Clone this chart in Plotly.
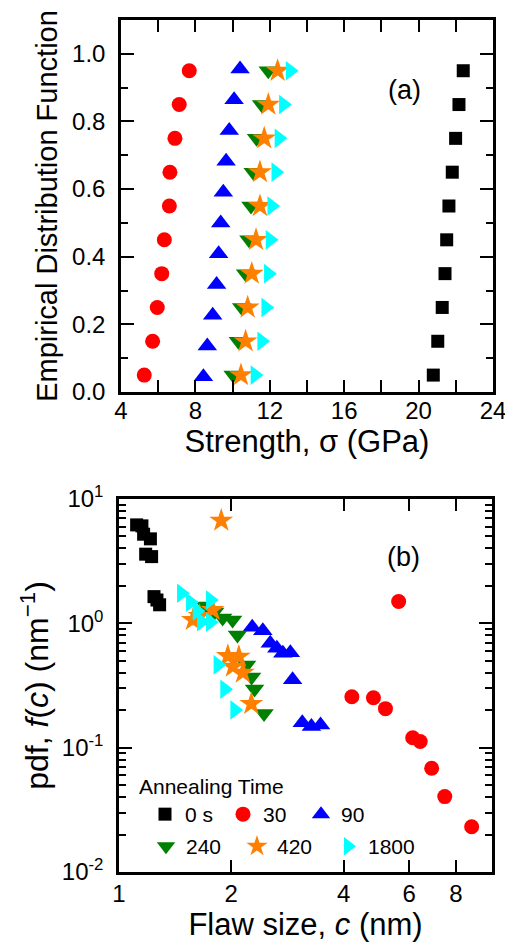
import plotly.graph_objects as go

# ---------------- data ----------------
# (a) empirical distribution function vs strength (GPa)
F10 = [0.05, 0.15, 0.25, 0.35, 0.45, 0.55, 0.65, 0.75, 0.85, 0.95]
F11 = [0.045, 0.136, 0.227, 0.318, 0.409, 0.5, 0.591, 0.682, 0.773, 0.864, 0.955]
s0 = [20.79, 21.03, 21.27, 21.42, 21.51, 21.63, 21.81, 21.99, 22.17, 22.40]
s30 = [5.25, 5.70, 5.95, 6.19, 6.33, 6.60, 6.63, 6.90, 7.13, 7.67]
s90 = [8.43, 8.64, 8.93, 9.14, 9.25, 9.36, 9.50, 9.65, 9.82, 10.08, 10.40]
s240 = [10.03, 10.31, 10.49, 10.70, 10.88, 10.99, 11.11, 11.29, 11.56, 11.92]
s420 = [10.45, 10.70, 10.81, 11.03, 11.26, 11.47, 11.47, 11.70, 11.92, 12.42]
s1800 = [11.20, 11.56, 11.78, 11.92, 12.01, 12.10, 12.32, 12.49, 12.73, 13.09]

# (b) pdf vs flaw size (nm)
c0 = [1.115, 1.152, 1.164, 1.214, 1.179, 1.223, 1.241, 1.264, 1.285]
f0 = [6.19, 6.08, 5.21, 4.78, 3.60, 3.44, 1.64, 1.54, 1.41]
c30 = [5.62, 4.21, 4.81, 5.18, 6.13, 6.42, 6.89, 7.47, 8.82]
f30 = [1.50, 0.257, 0.252, 0.206, 0.120, 0.112, 0.0683, 0.0404, 0.0231]
c90 = [2.276, 2.43, 2.544, 2.65, 2.75, 2.88, 2.92, 3.10, 3.28, 3.47]
f90 = [0.93, 0.873, 0.69, 0.63, 0.574, 0.581, 0.351, 0.159, 0.148, 0.152]
c240 = [1.706, 1.804, 1.896, 2.016, 2.078, 2.198, 2.267, 2.309, 2.448]
f240 = [1.38, 1.236, 1.105, 1.065, 0.807, 0.463, 0.37, 0.297, 0.188]
c420 = [1.88, 1.578, 1.645, 1.782, 1.958, 2.096, 2.02, 2.148, 2.263]
f420 = [6.7, 1.065, 1.148, 1.282, 0.547, 0.540, 0.449, 0.401, 0.225]
c1800 = [1.469, 1.553, 1.618, 1.757, 1.662, 1.757, 1.841, 1.919, 2.042]
f1800 = [1.746, 1.479, 1.259, 1.542, 1.032, 1.02, 0.463, 0.295, 0.201]

labels = ["0 s", "30", "90", "240", "420", "1800"]

x1_ticks = [4, 8, 12, 16, 20, 24]
x1_text = ["4", "8", "12", "16", "20", "24"]
x1_minor = [6, 10, 14, 18, 22]
y1_ticks = [0.0, 0.2, 0.4, 0.6, 0.8, 1.0]
y1_text = ["0.0", "0.2", "0.4", "0.6", "0.8", "1.0"]
x2_ticks = [1, 2, 4, 6, 8]
y2_ticks = [0.01, 0.1, 1, 10]
y2_text = ["10<sup>-2</sup>", "10<sup>-1</sup>", "10<sup>0</sup>", "10<sup>1</sup>"]
y2_minor = [0.02, 0.03, 0.04, 0.05, 0.06, 0.07, 0.08, 0.09,
            0.2, 0.3, 0.4, 0.5, 0.6, 0.7, 0.8, 0.9,
            2, 3, 4, 5, 6, 7, 8, 9]

# ---------------- style ----------------
FONT = "Liberation Sans, Arial, sans-serif"
styles = [
    ("square", "#000000", 13),
    ("circle", "#FF0000", 15),
    ("triangle-up", "#0000FF", 17),
    ("triangle-down", "#008000", 17),
    ("star", "#FF8000", 18),
    ("triangle-right", "#00FFFF", 17),
]
top = [(s0, F10), (s30, F10), (s90, F11), (s240, F10), (s420, F10), (s1800, F10)]
bot = [(c0, f0), (c30, f30), (c90, f90), (c240, f240), (c420, f420), (c1800, f1800)]

fig = go.Figure()
for i, ((sym, col, sz), (xs, ys)) in enumerate(zip(styles, top)):
    fig.add_trace(go.Scatter(x=xs, y=ys, mode="markers", xaxis="x", yaxis="y",
                             marker=dict(symbol=sym, color=col, size=sz, line=dict(width=0)),
                             showlegend=False))
for i, ((sym, col, sz), (xs, ys)) in enumerate(zip(styles, bot)):
    fig.add_trace(go.Scatter(x=xs, y=ys, mode="markers", xaxis="x2", yaxis="y2",
                             name=labels[i],
                             legend="legend" if i < 3 else "legend2",
                             marker=dict(symbol=sym, color=col, size=sz, line=dict(width=0)),
                             showlegend=True))

TICKFONT = dict(family=FONT, size=24, color="black")
axis_common = dict(showline=True, linewidth=2.5, linecolor="black", mirror="ticks",
                   ticks="inside", tickwidth=2, tickcolor="black", showgrid=False,
                   zeroline=False, automargin=False, tickfont=TICKFONT)

# page body has an 8px margin: figure is 505x942, placed at (8, 8) in the 513x950 window
OFF = 8
W, H = 513 - OFF, 950 - OFF


def px(x):
    return (x - OFF) / W


def py(y):
    return 1 - (y - OFF) / H


LEGFONT = dict(family=FONT, size=21, color="black")
fig.update_layout(
    width=W, height=H,
    margin=dict(l=0, r=0, t=0, b=0),
    paper_bgcolor="white", plot_bgcolor="white",
    font=dict(family=FONT, color="black"),
    xaxis=dict(axis_common, domain=[px(121), px(493)], anchor="y", range=[4, 24],
               tickmode="array", tickvals=x1_ticks, ticktext=x1_text, ticklen=12,
               minor=dict(tickmode="array", tickvals=x1_minor, ticks="inside", ticklen=12, tickwidth=2, tickcolor="black"),
               ticklabelstandoff=-5,
               title=dict(text="Strength, σ (GPa)", font=dict(family=FONT, size=31), standoff=0)),
    yaxis=dict(axis_common, domain=[py(392), py(20)], anchor="x", range=[0, 1.1],
               tickmode="array", tickvals=y1_ticks, ticktext=y1_text,
               ticklen=13, minor=dict(dtick=0.1, tick0=0, ticks="inside", ticklen=7, tickwidth=2, tickcolor="black"),
               ticklabelstandoff=8,
               title=dict(text="Empirical Distribution Function", font=dict(family=FONT, size=29), standoff=6)),
    xaxis2=dict(axis_common, domain=[px(119), px(492)], anchor="y2", type="log", range=[0, 1],
                tickmode="array", tickvals=x2_ticks, ticktext=[str(v) for v in x2_ticks], ticklen=12,
                ticklabelstandoff=-2,
                title=dict(text="Flaw size, <i>c</i> (nm)", font=dict(family=FONT, size=31), standoff=7)),
    yaxis2=dict(axis_common, domain=[py(872), py(499)], anchor="x2", type="log", range=[-2, 1],
                tickmode="array", tickvals=y2_ticks, ticktext=y2_text, ticklen=13,
                minor=dict(tickmode="array", tickvals=y2_minor, ticks="inside", ticklen=7, tickwidth=2, tickcolor="black"),
                ticklabelstandoff=8,
                title=dict(text="pdf, <i>f</i>(<i>c</i>) (nm<sup>−1</sup>)", font=dict(family=FONT, size=32), standoff=4)),
    legend=dict(orientation="h", x=px(145), y=py(794), xanchor="left", yanchor="top",
                bgcolor="rgba(0,0,0,0)", font=LEGFONT, itemwidth=30,
                entrywidth=33, tracegroupgap=0),
    legend2=dict(orientation="h", x=px(146), y=py(826), xanchor="left", yanchor="top",
                 bgcolor="rgba(0,0,0,0)", font=LEGFONT, itemwidth=30,
                 entrywidth=46),
    annotations=[
        dict(text="Annealing Time", x=px(137), y=py(786), xref="paper", yref="paper",
             xanchor="left", yanchor="middle", showarrow=False, font=LEGFONT),
        dict(text="(a)", x=px(423), y=py(73), xref="paper", yref="paper", showarrow=False,
             font=dict(family=FONT, size=27, color="black")),
        dict(text="(b)", x=px(422), y=py(557), xref="paper", yref="paper", showarrow=False,
             font=dict(family=FONT, size=27, color="black")),
    ],
)

fig.write_html("out.html")
